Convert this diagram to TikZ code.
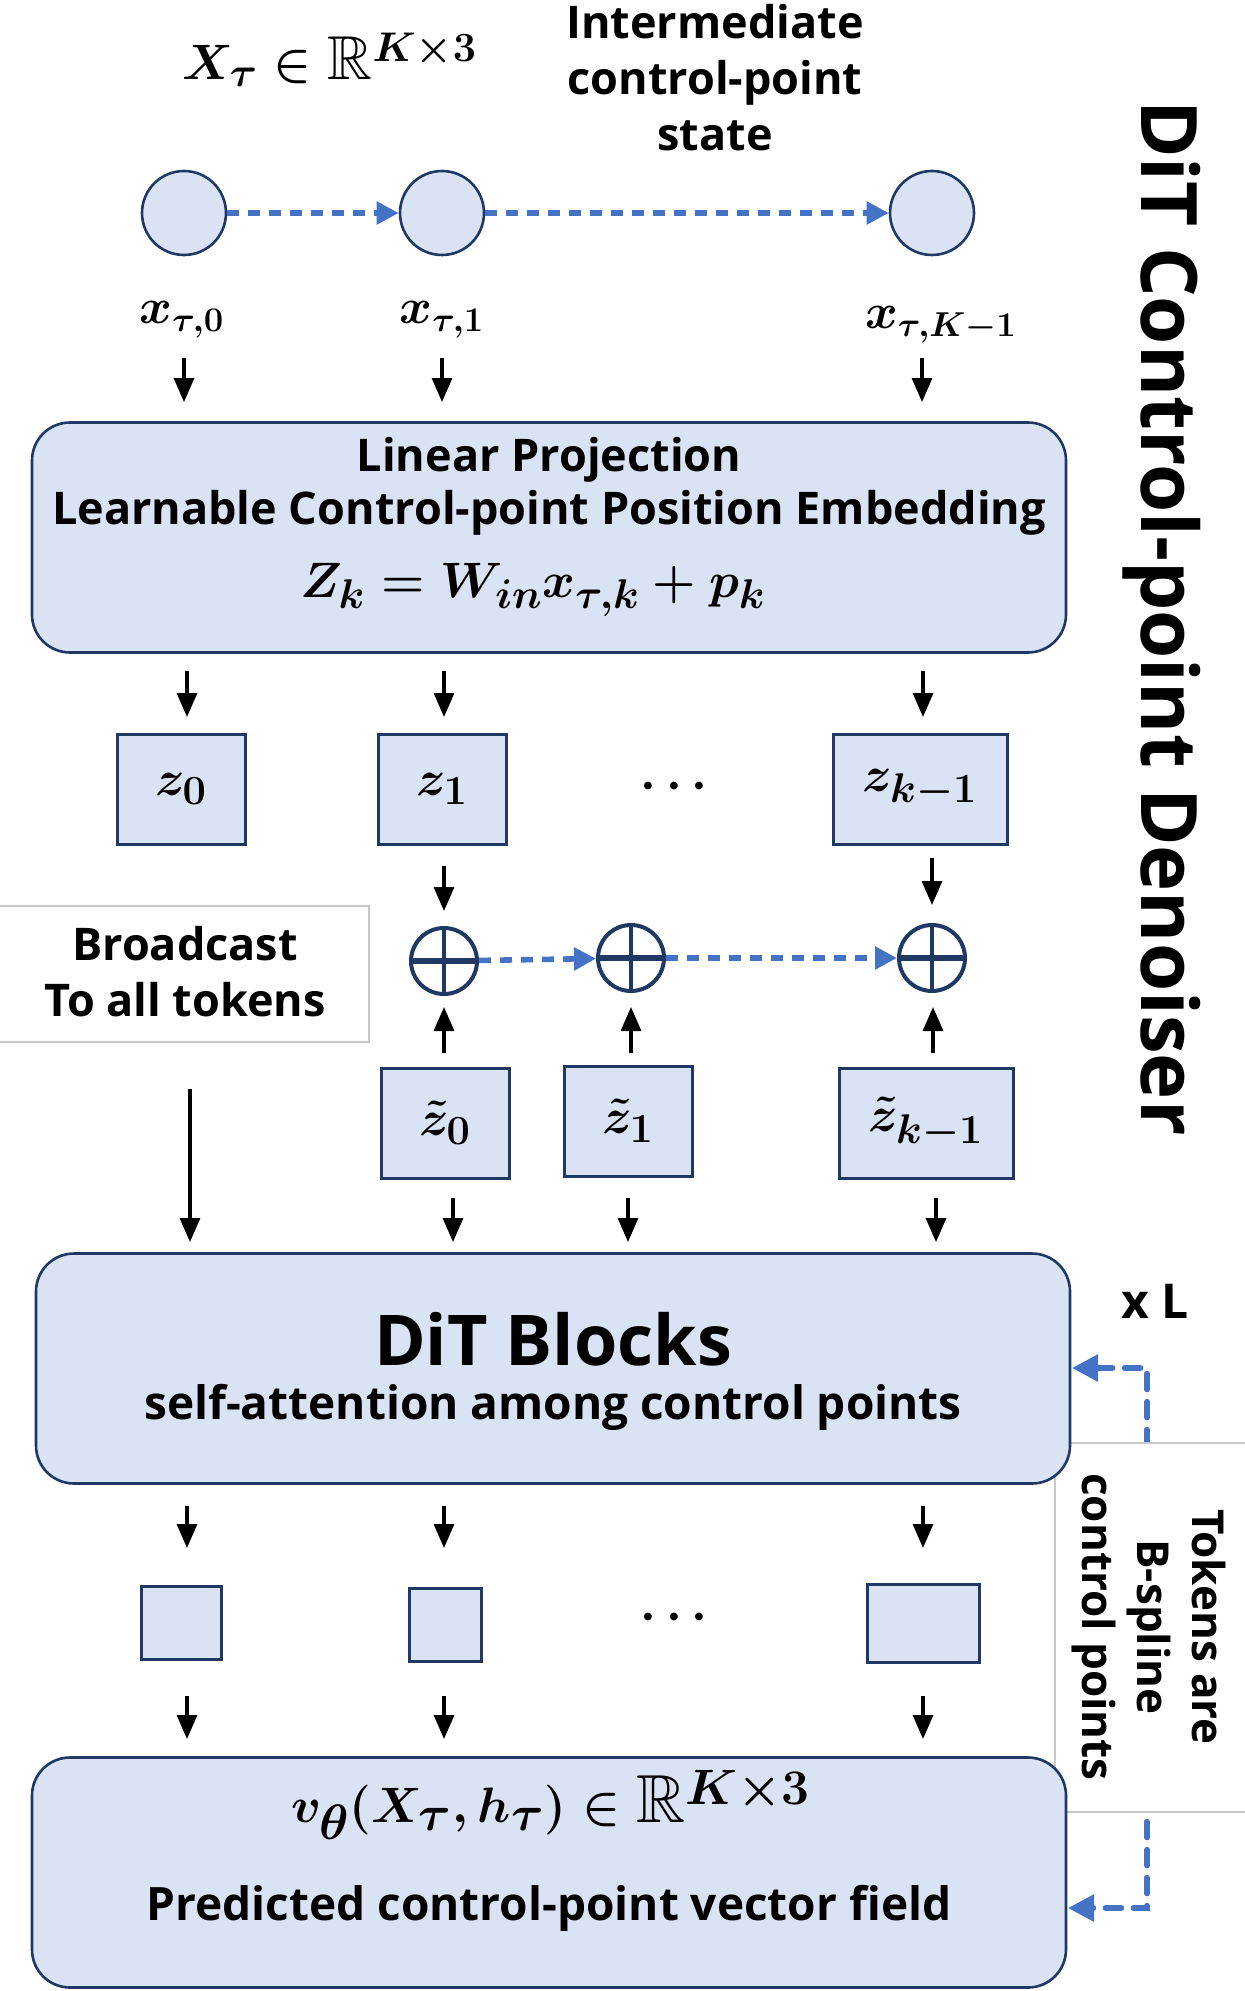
\documentclass[tikz,border=0pt]{standalone}
\usepackage{amsmath,amssymb}
\usepackage{fontspec}
\setmainfont{Open Sans}
\usetikzlibrary{arrows.meta}
\definecolor{boxfill}{HTML}{DAE3F3}
\definecolor{boxline}{HTML}{1F3864}
\definecolor{dashblue}{HTML}{4472C4}
\definecolor{graybox}{HTML}{C8C8C8}
\tikzset{
  bigbox/.style={draw=boxline, fill=boxfill, line width=1.3pt, rounded corners=19pt, minimum width=517pt, minimum height=115pt, inner sep=0pt},
  tok/.style={draw=boxline, fill=boxfill, line width=1.5pt, minimum height=55pt, inner sep=0pt, font=\fontsize{30}{34}\selectfont\boldmath},
  ptnode/.style={circle, draw=boxline, fill=boxfill, line width=1.3pt, minimum size=42pt, inner sep=0pt},
  sumnode/.style={circle, draw=boxline, fill=white, line width=2pt, minimum size=33pt, inner sep=0pt,
    path picture={\draw[boxline, line width=2pt] (path picture bounding box.north) -- (path picture bounding box.south); \draw[boxline, line width=2.6pt] (path picture bounding box.west) -- (path picture bounding box.east);}},
  blk/.style={-{Triangle[length=12pt,width=10pt]}, line width=1.6pt, black},
  flow/.style={draw=dashblue, line width=2.8pt, dash pattern=on 6pt off 4.5pt, -{Triangle[length=11pt,width=11pt]}},
  loopflow/.style={draw=dashblue, line width=2.8pt, line cap=round, dash pattern=on 8pt off 6pt, {Triangle[length=13pt,width=13pt]}-{Triangle[length=13pt,width=13pt]}},
  note/.style={draw=graybox, fill=white, line width=0.7pt, inner sep=0pt},
  txt/.style={font=\fontsize{22.5}{28}\selectfont\bfseries, inner sep=0pt, align=center},
  mth/.style={font=\fontsize{28}{32}\selectfont\boldmath, inner sep=0pt},
}
\begin{document}
\begin{tikzpicture}[x=0.5pt, y=-0.5pt]
\useasboundingbox (0,0) rectangle (1244,1991);

% top labels
\node[mth, font=\fontsize{31}{34}\selectfont\boldmath] (xt) at (330,60) {$X_\tau \in \mathbb{R}^{K\times 3}$};
\node[txt] (state) at (715,78) {Intermediate\\control-point\\state};

% control points
\node[ptnode] (c0) at (184,213) {};
\node[ptnode] (c1) at (442,213) {};
\node[ptnode] (c2) at (932,213) {};
\draw[flow] (c0) -- (c1);
\draw[flow] (c1) -- (c2);

\node[mth, font=\fontsize{27}{30}\selectfont\boldmath] (x0) at (182,320) {$x_{\tau,0}$};
\node[mth, font=\fontsize{27}{30}\selectfont\boldmath] (x1) at (442,320) {$x_{\tau,1}$};
\node[mth, font=\fontsize{27}{30}\selectfont\boldmath] (x2) at (941,325) {$x_{\tau,K-1}$};

% linear projection
\node[bigbox] (lp) at (549,537.5) {};
\node[txt] (lp1) at (549,460) {Linear Projection};
\node[txt] (lp2) at (549,513) {Learnable Control-point Position Embedding};
\node[mth] (lp3) at (533,590) {$Z_k = W_{in} x_{\tau,k} + p_k$};

% z tokens
\node[tok, minimum width=64pt] (z0) at (181,789) {$z_0$};
\node[tok, minimum width=64pt] (z1) at (442,789) {$z_1$};
\node[tok, minimum width=87pt] (z2) at (920,789) {$z_{k-1}$};
\node[mth, font=\fontsize{30}{34}\selectfont\boldmath] (dots1) at (679,787) {$\cdots$};

% sums
\node[sumnode] (o0) at (444,961) {};
\node[sumnode] (o1) at (631,958) {};
\node[sumnode] (o2) at (932,958) {};
\draw[flow] (o0) -- (o1);
\draw[flow] (o1) -- (o2);

% broadcast note
\node[note, minimum width=187pt, minimum height=68pt] (bc) at (182,974) {};
\node[txt] (bct) at (185,972) {Broadcast\\To all tokens};

% z tilde tokens
\node[tok, minimum width=64pt] (t0) at (445,1123) {$\tilde{z}_0$};
\node[tok, minimum width=64pt] (t1) at (628,1121) {$\tilde{z}_1$};
\node[tok, minimum width=87pt] (t2) at (926,1123) {$\tilde{z}_{k-1}$};

% loop feedback and tokens note (behind DiT)
\coordinate (lt) at (1147,1368);
\coordinate (lb) at (1147,1908);
\coordinate (pe) at (1068,1908);
\coordinate (de) at (1072,1368);
\draw[loopflow] (de) -- (lt) -- (lb) -- (pe);
\node[note, minimum width=97.5pt, minimum height=184.5pt] (tb) at (1152.5,1627.5) {};
\node[txt, rotate=-90, font=\fontsize{22}{27.5}\selectfont\bfseries] (tbt) at (1149,1627) {Tokens are\\B-spline\\control points};

% DiT
\node[bigbox] (dit) at (553,1368.5) {};
\node[txt, font=\fontsize{35}{40}\selectfont\bfseries] (dit1) at (553,1339) {DiT Blocks};
\node[txt, font=\fontsize{23}{28}\selectfont\bfseries] (dit2) at (553,1407) {self-attention among control points};
\node[txt, font=\fontsize{24}{28}\selectfont\bfseries] (xl) at (1155,1301) {x L};

% output tokens
\node[tok, minimum width=40pt, minimum height=36.5pt] (b0) at (181,1623) {};
\node[tok, minimum width=36pt, minimum height=36.5pt] (b1) at (445,1625) {};
\node[tok, minimum width=56pt, minimum height=39pt] (b2) at (923,1623) {};
\node[mth, font=\fontsize{30}{34}\selectfont\boldmath] (dots2) at (679,1618) {$\cdots$};

% prediction
\node[bigbox] (pr) at (549,1872.5) {};
\node[mth, font=\fontsize{34}{38}\selectfont\boldmath] (pr1) at (551,1805) {$v_\theta(X_\tau, h_\tau) \in \mathbb{R}^{K\times 3}$};
\node[txt, font=\fontsize{23}{28}\selectfont\bfseries] (pr2) at (549,1908) {Predicted control-point vector field};

% title
\node[txt, rotate=-90, font=\fontsize{39}{44}\selectfont\bfseries] (title) at (1162,618) {DiT Control-point Denoiser};

% black arrows
\foreach \n/\x/\ya/\yb in {
  ax0/184/358/402, ax1/442/358/402, ax2/922/358/402,
  az0/187/671/717, az1/444/671/717, az2/923/671/717,
  ao0/444/866/911, ao2/932/858/905,
  au0/444/1053/1007, au1/631/1053/1007, au2/933/1053/1007,
  abc/190/1089/1242,
  ad0/453/1198/1242, ad1/628/1198/1242, ad2/936/1198/1242,
  ab0/187/1506/1548, ab1/444/1506/1548, ab2/923/1506/1548,
  ap0/187/1696/1739, ap1/444/1696/1739, ap2/923/1696/1739}{
  \coordinate (\n s) at (\x,\ya);
  \coordinate (\n e) at (\x,\yb);
  \draw[blk] (\n s) -- (\n e);
}
\end{tikzpicture}
\end{document}
